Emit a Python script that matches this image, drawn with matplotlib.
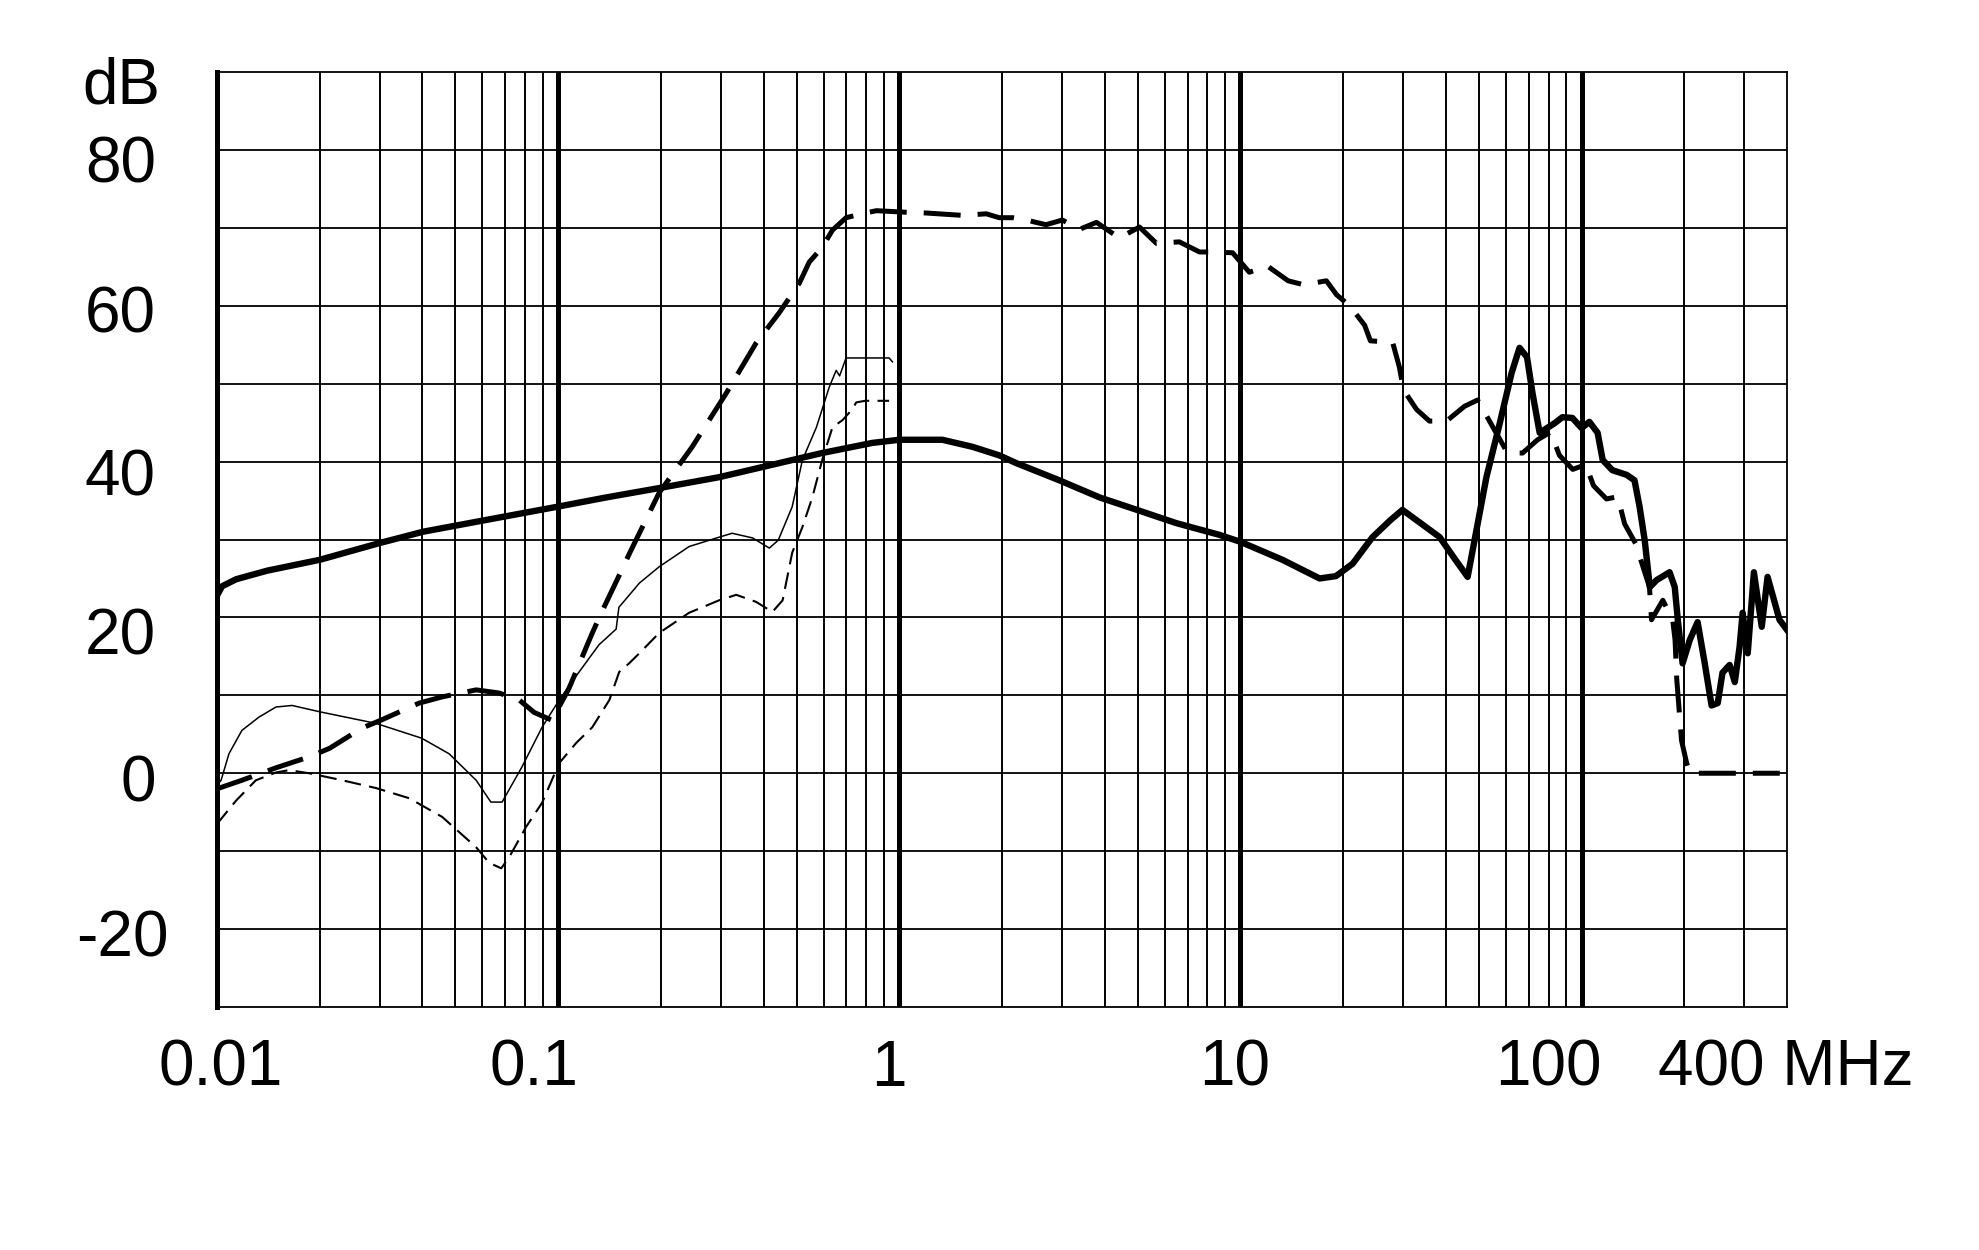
import matplotlib.pyplot as plt

plt.rcParams['font.family'] = ['Liberation Sans', 'DejaVu Sans']

# thick solid curve
freq_a = [0.0100, 0.01035, 0.01138, 0.01403, 0.02004, 0.0297, 0.0402, 0.0631, 0.0993, 0.1384,
          0.1977, 0.2965, 0.4246, 0.594, 0.834, 1.0, 1.337, 1.637, 1.963, 2.203,
          2.944, 3.864, 4.819, 6.486, 8.670, 10.0, 13.27, 17.06, 19.05, 21.33,
          24.38, 27.54, 29.85, 31.62, 38.37, 42.66, 46.34, 48.98, 52.60, 57.54,
          62.37, 65.77, 69.18, 71.78, 75.34, 83.18, 87.90, 93.97, 100.0, 105.4,
          111.4, 115.3, 123.0, 135.5, 142.9, 147.9, 153.1, 158.5, 166.0, 181.1,
          187.5, 191.4, 197.7, 207.5, 218.8, 229.6, 240.4, 250.6, 258.8, 271.6,
          281.2, 290.4, 296.5, 306.9, 319.9, 337.3, 350.8, 380.2, 400.0]
db_a = [22.8, 24.0, 24.9, 26.0, 27.4, 29.5, 31.0, 32.6, 34.2, 35.4,
        36.6, 38.0, 39.6, 41.1, 42.4, 42.8, 42.8, 41.9, 40.8, 39.8,
        37.6, 35.4, 34.0, 32.1, 30.6, 29.7, 27.4, 25.0, 25.3, 26.9,
        30.3, 32.5, 33.8, 33.0, 30.3, 27.4, 25.2, 30.8, 38.0, 44.9,
        51.4, 54.6, 53.4, 48.8, 43.7, 44.9, 45.7, 45.6, 44.3, 45.1,
        43.7, 40.2, 38.9, 38.3, 37.6, 34.2, 29.9, 23.9, 24.8, 25.8,
        23.9, 19.7, 14.1, 17.1, 19.4, 14.1, 8.7, 9.0, 12.9, 13.9,
        11.7, 16.2, 20.6, 15.4, 25.8, 18.8, 25.2, 19.7, 18.4]

# thick dashed curve
freq_b = [0.0100, 0.01183, 0.01489, 0.01862, 0.02138, 0.02661, 0.0302, 0.0391, 0.0457, 0.0575,
          0.0671, 0.0769, 0.0851, 0.0959, 0.1076, 0.1259, 0.1349, 0.1510, 0.1622, 0.1977,
          0.2472, 0.3112, 0.3802, 0.4446, 0.5093, 0.5445, 0.5943, 0.6368, 0.6982, 0.7943,
          0.857, 1.047, 1.202, 1.531, 1.799, 1.963, 2.153, 2.355, 2.692, 3.006,
          3.373, 3.784, 4.416, 5.058, 5.675, 6.622, 7.586, 8.279, 9.484, 10.62,
          11.99, 13.80, 15.31, 17.86, 19.14, 20.89, 23.12, 24.04, 27.93, 29.24,
          30.06, 32.81, 35.81, 40.18, 45.39, 49.55, 53.70, 60.67, 67.14, 74.30,
          81.10, 86.10, 94.19, 102.8, 108.4, 118.3, 127.6, 133.7, 143.9, 158.1,
          160.3, 173.0, 184.9, 187.9, 190.1, 196.3, 203.2, 207.5, 381.0]
db_b = [-2.0, -0.9, 0.7, 2.1, 3.2, 5.8, 6.8, 9.0, 9.8, 10.7,
        10.3, 9.4, 7.8, 6.8, 10.9, 18.0, 20.9, 25.4, 28.3, 36.0,
        41.9, 48.8, 55.2, 59.1, 62.9, 65.6, 67.5, 69.7, 71.3, 71.9,
        72.2, 72.0, 71.9, 71.6, 71.8, 71.3, 71.3, 71.0, 70.4, 71.0,
        69.8, 70.7, 68.7, 70.1, 68.0, 68.2, 66.9, 66.9, 66.8, 64.3,
        65.1, 63.2, 62.7, 63.2, 61.4, 60.0, 57.5, 55.5, 55.3, 52.1,
        49.2, 46.7, 45.2, 45.2, 47.1, 47.9, 45.2, 41.1, 41.1, 42.8,
        43.8, 40.8, 39.0, 39.6, 36.9, 35.2, 35.5, 32.0, 29.5, 23.9,
        19.7, 22.2, 19.7, 17.1, 12.0, 4.2, 1.3, 0.0, 0.0]

# thin solid curve
freq_c = [0.0100, 0.01028, 0.01084, 0.01183, 0.01327, 0.01489, 0.0166, 0.01995, 0.02924, 0.0398,
          0.0479, 0.0575, 0.0635, 0.0685, 0.0783, 0.0897, 0.1007, 0.1130, 0.1318, 0.1479,
          0.1507, 0.1730, 0.1977, 0.2421, 0.2965, 0.3236, 0.3715, 0.4159, 0.4416, 0.4853,
          0.5200, 0.5715, 0.6237, 0.6531, 0.6683, 0.6982, 0.9333, 0.9550]
db_c = [-1.5, -0.9, 2.5, 5.5, 7.2, 8.5, 8.7, 7.9, 6.4, 4.5,
        2.5, -0.9, -3.7, -3.7, 0.8, 5.9, 9.4, 12.5, 16.5, 18.5,
        21.3, 24.4, 26.5, 29.1, 30.3, 30.8, 30.2, 28.9, 29.9, 34.2,
        40.2, 44.4, 49.6, 51.7, 51.0, 53.3, 53.3, 52.8]

# thin dashed curve
freq_d = [0.0100, 0.01138, 0.0130, 0.01489, 0.01626, 0.01862, 0.02328, 0.02924, 0.03656, 0.0457,
          0.0575, 0.0628, 0.0681, 0.0718, 0.0805, 0.0897, 0.1007, 0.1130, 0.1259, 0.1413,
          0.1510, 0.1614, 0.1730, 0.1977, 0.2421, 0.2965, 0.3327, 0.3802, 0.4246, 0.4550,
          0.4853, 0.5200, 0.5559, 0.5943, 0.6368, 0.6808, 0.7244, 0.7482, 0.7943, 0.9333]
db_d = [-6.5, -3.5, -0.9, 0.1, 0.4, 0.0, -0.9, -1.9, -3.2, -5.6,
        -9.5, -11.5, -12.2, -10.8, -6.9, -3.8, 1.3, 3.9, 5.9, 9.4,
        13.0, 14.1, 15.4, 18.0, 20.6, 22.2, 22.9, 22.0, 20.7, 22.2,
        28.3, 31.6, 35.4, 40.2, 44.4, 45.3, 46.6, 47.6, 47.8, 47.8]

x_ticks = [0.01, 0.1, 1, 10, 100, 400]
x_labels = ['0.01', '0.1', '1', '10', '100', '400 MHz']
y_ticks = [90, 80, 60, 40, 20, 0, -20]
y_labels = ['dB', '80', '60', '40', '20', '0', '-20']

fig = plt.figure(figsize=(19.79, 12.5), dpi=100)
ax = fig.add_axes([217 / 1979, 1 - 1007 / 1250, 1570 / 1979, 935 / 1250])
ax.set_xscale('log')
ax.set_xlim(0.01, 400)
ax.set_ylim(-30, 90)
ax.tick_params(which='both', length=0, labelbottom=False, labelleft=False)

# log grid: thin lines at 2..9, thick lines at decades
for dec in [0.01, 0.1, 1, 10, 100]:
    for m in range(2, 10):
        if m * dec < 400:
            ax.axvline(m * dec, color='black', lw=1.4, zorder=1)
    if dec > 0.01:
        ax.axvline(dec, color='black', lw=3.6, zorder=1)
for y in range(-20, 90, 10):
    ax.axhline(y, color='black', lw=1.3, zorder=1)

for side in ['top', 'bottom', 'right']:
    ax.spines[side].set_linewidth(1.3)
ax.spines['left'].set_linewidth(3.6)

ax.plot(freq_b, db_b, color='black', lw=3.6, dashes=(7.4, 3.4), zorder=3)
ax.plot(freq_d, db_d, color='black', lw=1.5, dashes=(8, 4), zorder=3)
ax.plot(freq_c, db_c, color='black', lw=1.1, zorder=3)
ax.plot(freq_a, db_a, color='black', lw=4.6, solid_joinstyle='round', zorder=4)

# hand-placed labels, as in the original drawing
x_dx = [4, -24, -10, -6, -33, -1]
for val, lab, dx in zip(x_ticks, x_labels, x_dx):
    ax.annotate(lab, xy=(val, 0), xycoords=('data', 'axes fraction'),
                xytext=(dx, -79), textcoords='offset pixels',
                ha='center', va='baseline', fontsize=46)

y_dx = [-57, -61, -61, -61, -61, -61, -48]
y_dy = [32, 33, 27, 34, 37, 28, 27]
for val, lab, dx, dy in zip(y_ticks, y_labels, y_dx, y_dy):
    ax.annotate(lab, xy=(0, val), xycoords=('axes fraction', 'data'),
                xytext=(dx, -dy), textcoords='offset pixels',
                ha='right', va='baseline', fontsize=46)

fig.savefig('out.png', dpi=100, facecolor='white')
